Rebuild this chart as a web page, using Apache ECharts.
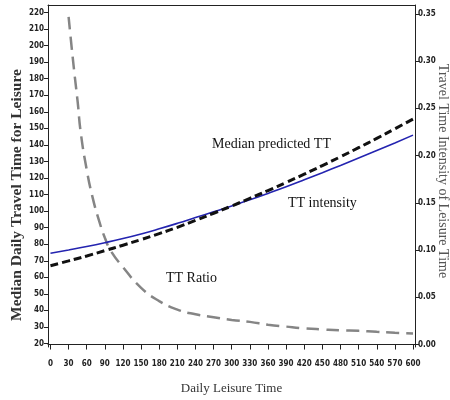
<!DOCTYPE html>
<html><head><meta charset="utf-8">
<script src="https://cdn.jsdelivr.net/npm/echarts@6/dist/echarts.min.js"></script>
<style>html,body{margin:0;padding:0;background:#fff}#c{width:450px;height:400px}</style>
</head><body><div id="c"></div>
<script>
// Data
const leisureX = [0,30,60,90,120,150,180,210,240,270,300,330,360,390,420,450,480,510,540,570,600];
const medianTT = [67,69.9,72.9,76.1,79.4,82.8,86.4,90.2,94.4,98.7,103.1,107.7,112.4,117.3,122.3,127.5,132.8,138.3,143.9,149.7,155.6];
const ttIntensity = [74.5,76.5,78.6,80.9,83.4,86.2,89.3,92.6,96.1,99.6,103.1,106.8,110.7,114.7,118.9,123.2,127.6,132.1,136.6,141.2,145.9];
const ratioX = [30,35,40,45,50,60,70,80,90,100,120,150,180,210,240,270,300,330,360,390,420,450,480,510,540,570,600];
const ttRatio = [0.347,0.315,0.285,0.257,0.225,0.185,0.155,0.132,0.113,0.099,0.082,0.060,0.046,0.037,0.032,0.029,0.026,0.024,0.021,0.019,0.0172,0.016,0.015,0.0145,0.0135,0.0125,0.0118];
const xTicks = [0,30,60,90,120,150,180,210,240,270,300,330,360,390,420,450,480,510,540,570,600];
const leftTicks = [20,30,40,50,60,70,80,90,100,110,120,130,140,150,160,170,180,190,200,210,220];
const rightTicks = [0,0.05,0.10,0.15,0.20,0.25,0.30,0.35];
const titleText = 'Leisure daily time (Entire Sample)';
const leftTitle = 'Median Daily Travel Time for Leisure';
const rightTitle = 'Travel Time Intensity of Leisure Time';
const xTitle = 'Daily Leisure Time';
const labels = ['Median predicted TT','TT intensity','TT Ratio'];

const tickFont = {fontFamily:'DejaVu Sans Condensed, DejaVu Sans, sans-serif', fontWeight:'bold', fontSize:8, color:'#222'};
const chart = echarts.init(document.getElementById('c'), null, {renderer:'canvas'});
chart.setOption({
  animation:false,
  backgroundColor:'#fff',
  grid:{left:48, right:35, top:5, bottom:52, containLabel:false},
  xAxis:[{
    type:'value', min:-4.1, max:603.3,
    axisLine:{show:true, lineStyle:{color:'#222', width:1}},
    axisTick:{show:true, customValues:xTicks, length:5, lineStyle:{color:'#222'}},
    axisLabel:Object.assign({customValues:xTicks, margin:13}, tickFont),
    splitLine:{show:false},
    name:xTitle, nameLocation:'middle', nameGap:35,
    nameTextStyle:{fontFamily:'Liberation Serif, serif', fontSize:13, color:'#333'}
  },{
    type:'value', position:'top', min:-4.1, max:603.3,
    axisLine:{show:true, onZero:false, lineStyle:{color:'#222', width:1}},
    axisTick:{show:false}, axisLabel:{show:false}, splitLine:{show:false}
  }],
  yAxis:[{
    type:'value', min:17.9, max:224.5, position:'left',
    axisLine:{show:true, onZero:false, lineStyle:{color:'#222', width:1}},
    axisTick:{show:true, customValues:leftTicks, length:4, lineStyle:{color:'#222'}},
    axisLabel:Object.assign({customValues:leftTicks, margin:4}, tickFont),
    splitLine:{show:false}
  },{
    type:'value', min:-0.0026, max:0.3595, position:'right',
    axisLine:{show:true, onZero:false, lineStyle:{color:'#222', width:1}},
    axisTick:{show:true, customValues:rightTicks, length:4, lineStyle:{color:'#222'}},
    axisLabel:Object.assign({customValues:rightTicks, margin:3, formatter:v=>v.toFixed(2)}, tickFont),
    splitLine:{show:false}
  }],
  series:[{
    name:labels[2], type:'line', yAxisIndex:1, smooth:true, symbol:'none',
    data:ratioX.map((x,i)=>[x,ttRatio[i]]),
    lineStyle:{color:'#858585', width:2.5, type:[13,7]}
  },{
    name:labels[1], type:'line', yAxisIndex:0, smooth:true, symbol:'none',
    data:leisureX.map((x,i)=>[x,ttIntensity[i]]),
    lineStyle:{color:'#2424b0', width:1.6}
  },{
    name:labels[0], type:'line', yAxisIndex:0, smooth:true, symbol:'none',
    data:leisureX.map((x,i)=>[x,medianTT[i]]),
    lineStyle:{color:'#111', width:3, type:[8,4]}
  }],
  graphic:[
    {type:'text', x:225, y:-21, style:{text:titleText, fontFamily:'Liberation Serif, serif', fontSize:20, fill:'#111', textAlign:'center', textVerticalAlign:'top'}},
    {type:'text', x:17, y:195, rotation:Math.PI/2, style:{text:leftTitle, fontFamily:'Liberation Serif, serif', fontWeight:'bold', fontSize:15.5, fill:'#333', textAlign:'center', textVerticalAlign:'middle'}},
    {type:'text', x:443, y:171, rotation:-Math.PI/2, style:{text:rightTitle, fontFamily:'Liberation Serif, serif', fontSize:14, fill:'#555', textAlign:'center', textVerticalAlign:'middle'}},
    {type:'text', x:212, y:144, style:{text:labels[0], fontFamily:'Liberation Serif, serif', fontSize:14, fill:'#111', textAlign:'left', textVerticalAlign:'middle'}},
    {type:'text', x:288, y:203, style:{text:labels[1], fontFamily:'Liberation Serif, serif', fontSize:14, fill:'#111', textAlign:'left', textVerticalAlign:'middle'}},
    {type:'text', x:166, y:278, style:{text:labels[2], fontFamily:'Liberation Serif, serif', fontSize:14, fill:'#111', textAlign:'left', textVerticalAlign:'middle'}}
  ]
});
</script></body></html>
